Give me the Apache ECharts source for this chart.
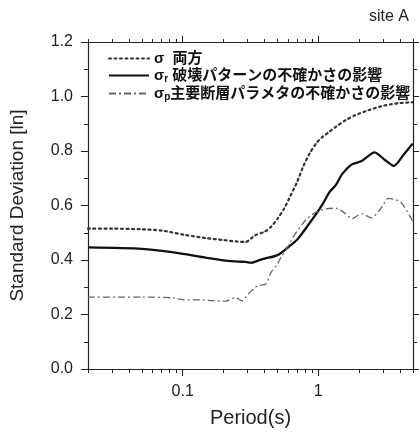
<!DOCTYPE html>
<html><head><meta charset="utf-8">
<script src="https://cdn.jsdelivr.net/npm/echarts@6/dist/echarts.min.js"></script>
<style>html,body{margin:0;padding:0;background:#fff}#c{width:419px;height:433px}</style>
</head><body><div id="c"></div>
<script>
// ---- data ----
const seriesNames = ['σ 両方', 'σr 破壊パターンの不確かさの影響', 'σp主要断層パラメタの不確かさの影響'];
const legendLabels = ['{m|σ  両方}', '{m|σ}{sub|r}{m| 破壊パターンの不確かさの影響}', '{m|σ}{sub|p}{m|主要断層パラメタの不確かさの影響}'];

const periodAll = [0.02, 0.03, 0.048, 0.07, 0.104, 0.15, 0.2, 0.25, 0.29, 0.341, 0.402, 0.449, 0.501, 0.559, 0.624, 0.696, 0.777, 0.868, 0.968, 1.08, 1.21, 1.35, 1.59, 1.87, 2.33, 3.07, 4.04, 5.0];
const sigmaAll  = [0.515, 0.515, 0.513, 0.508, 0.492, 0.48, 0.473, 0.468, 0.466, 0.49, 0.504, 0.522, 0.552, 0.588, 0.636, 0.685, 0.745, 0.793, 0.829, 0.853, 0.871, 0.889, 0.913, 0.931, 0.949, 0.967, 0.976, 0.979];

const periodR = [0.02, 0.05, 0.086, 0.15, 0.208, 0.259, 0.29, 0.323, 0.36, 0.402, 0.5, 0.59, 0.697, 0.82, 0.968, 1.08, 1.21, 1.35, 1.5, 1.77, 2.09, 2.6, 3.07, 3.61, 4.27, 4.9, 5.0];
const sigmaR  = [0.446, 0.441, 0.428, 0.408, 0.398, 0.394, 0.393, 0.39, 0.398, 0.405, 0.418, 0.444, 0.474, 0.52, 0.57, 0.606, 0.649, 0.676, 0.715, 0.751, 0.763, 0.795, 0.769, 0.745, 0.787, 0.823, 0.826];

const periodP = [0.02, 0.05, 0.086, 0.102, 0.134, 0.167, 0.208, 0.245, 0.274, 0.29, 0.305, 0.341, 0.36, 0.41, 0.449, 0.5, 0.53, 0.59, 0.624, 0.697, 0.82, 0.968, 1.14, 1.35, 1.59, 1.77, 2.09, 2.46, 2.9, 3.3, 4.04, 4.75, 5.0];
const sigmaP  = [0.264, 0.264, 0.261, 0.254, 0.254, 0.251, 0.249, 0.262, 0.25, 0.262, 0.275, 0.298, 0.306, 0.312, 0.355, 0.385, 0.41, 0.444, 0.468, 0.505, 0.55, 0.576, 0.588, 0.59, 0.57, 0.552, 0.57, 0.555, 0.59, 0.626, 0.613, 0.56, 0.54];

const majorPeriods = [0.1, 1];
const minorPeriods = [0.02, 0.03, 0.04, 0.05, 0.06, 0.07, 0.08, 0.09, 0.2, 0.3, 0.4, 0.5, 0.6, 0.7, 0.8, 0.9, 2, 3, 4, 5];

// ---- chart ----
const font = '"Liberation Sans", Arial, sans-serif';
const jpFont = '"Liberation Sans", "Noto Sans CJK JP", sans-serif';
const ink = '#222';
const zip = (xs, ys) => xs.map((x, i) => [x, ys[i]]);

function logAxis(pos, ticks, len, showLabel, extra) {
  return Object.assign({
    type: 'log', logBase: 10, min: 0.02, max: 5, position: pos, gridIndex: 0,
    axisLine: { show: true, lineStyle: { color: ink, width: 1.2 } },
    axisTick: { show: true, inside: false, length: len, customValues: ticks, lineStyle: { color: ink, width: 1 } },
    axisLabel: { show: showLabel, customValues: ticks, margin: 15, fontSize: 16, color: ink, fontFamily: font, formatter: v => String(+v.toPrecision(3)) },
    splitLine: { show: false }, minorTick: { show: false }, minorSplitLine: { show: false }
  }, extra || {});
}
function valAxis(pos, showLabel, extra) {
  return Object.assign({
    type: 'value', min: 0, max: 1.2, interval: 0.2, position: pos, gridIndex: 0,
    axisLine: { show: true, lineStyle: { color: ink, width: 1.2 } },
    axisTick: { show: true, inside: false, length: 7, lineStyle: { color: ink, width: 1 } },
    minorTick: { show: true, splitNumber: 2, length: 4, lineStyle: { color: ink, width: 1 } },
    axisLabel: { show: showLabel, margin: 15, fontSize: 16, color: ink, fontFamily: font, formatter: v => v.toFixed(1) },
    splitLine: { show: false }, minorSplitLine: { show: false }
  }, extra || {});
}

const chart = echarts.init(document.getElementById('c'), null, { renderer: 'canvas' });
chart.setOption({
  animation: false,
  backgroundColor: '#fff',
  title: { text: 'site A', right: 5, top: 4, textStyle: { fontSize: 16, fontWeight: 'normal', color: ink, fontFamily: font } },
  grid: { left: 79, right: 6, top: 42, bottom: 61, containLabel: false },
  legend: {
    orient: 'vertical', left: 103, top: 46, itemWidth: 40, itemHeight: 10, itemGap: 2,
    data: seriesNames,
    itemStyle: { opacity: 0 },
    formatter: name => legendLabels[seriesNames.indexOf(name)],
    textStyle: {
      fontSize: 15, color: '#111', fontFamily: jpFont,
      rich: {
        m: { fontSize: 15, lineHeight: 17, fontWeight: 'bold', color: '#111', fontFamily: jpFont, verticalAlign: 'middle' },
        sub: { fontSize: 10, lineHeight: 10, fontWeight: 'bold', color: '#111', fontFamily: font, verticalAlign: 'bottom' }
      }
    }
  },
  xAxis: [
    logAxis('bottom', majorPeriods, 7, true, { name: 'Period(s)', nameLocation: 'middle', nameGap: 39, nameTextStyle: { fontSize: 20, color: ink, fontFamily: font } }),
    logAxis('bottom', minorPeriods, 4, false),
    logAxis('top', majorPeriods, 6, false),
    logAxis('top', minorPeriods, 3, false)
  ],
  yAxis: [
    valAxis('left', true, { name: 'Standard Deviation [ln]', nameLocation: 'middle', nameGap: 61, nameTextStyle: { fontSize: 19, color: ink, fontFamily: font } }),
    valAxis('right', false)
  ],
  series: [
    { name: seriesNames[0], type: 'line', xAxisIndex: 0, yAxisIndex: 0, data: zip(periodAll, sigmaAll), symbol: 'none', smooth: 0.25,
      lineStyle: { type: [2, 3.5], width: 2.2, color: '#333', cap: 'round' }, itemStyle: { color: '#333' } },
    { name: seriesNames[1], type: 'line', xAxisIndex: 0, yAxisIndex: 0, data: zip(periodR, sigmaR), symbol: 'none', smooth: 0.25,
      lineStyle: { type: 'solid', width: 2.3, color: '#111' }, itemStyle: { color: '#111' } },
    { name: seriesNames[2], type: 'line', xAxisIndex: 0, yAxisIndex: 0, data: zip(periodP, sigmaP), symbol: 'none', smooth: 0.25,
      lineStyle: { type: [7, 3, 2, 3], width: 1.3, color: '#666' }, itemStyle: { color: '#666' } }
  ]
});
</script></body></html>
